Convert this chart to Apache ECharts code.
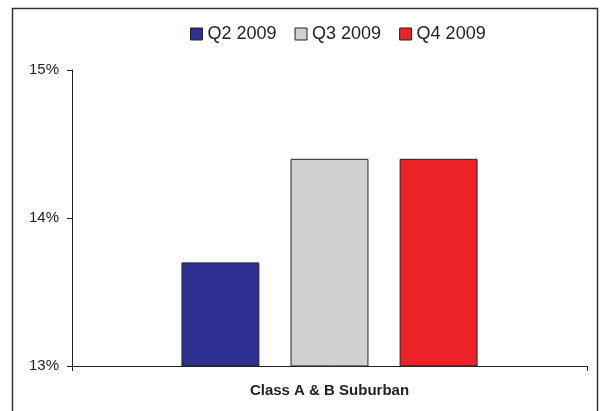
<!DOCTYPE html>
<html>
<head>
<meta charset="utf-8">
<script src="https://cdn.jsdelivr.net/npm/echarts@6/dist/echarts.min.js"></script>
<style>
  html, body { margin: 0; padding: 0; background: #fff; }
  #chart { width: 600px; height: 411px; }
</style>
</head>
<body>
<div id="chart"></div>
<script>
const categories = ['Class A & B Suburban']
const seriesNames = ['Q2 2009', 'Q3 2009', 'Q4 2009']
const seriesValues = [[13.7], [14.4], [14.4]]
const seriesColors = ['#2E3192', '#D0D0D0', '#ED2229']
const yTicks = [13, 14, 15]

const chart = echarts.init(document.getElementById('chart'))

const series = seriesNames.map((name, i) => ({
  name: name,
  type: 'bar',
  data: seriesValues[i],
  barGap: '40%',
  barCategoryGap: '42.5%',
  itemStyle: {
    color: seriesColors[i],
    borderColor: '#222',
    borderWidth: 1
  }
}))

chart.setOption({
  animation: false,
  textStyle: { fontFamily: 'Liberation Sans, Arial, sans-serif' },
  graphic: [
    {
      type: 'rect',
      shape: { x: 12.5, y: 8.5, width: 585, height: 420 },
      style: { fill: 'none', stroke: '#333', lineWidth: 1.5 },
      silent: true
    }
  ],
  legend: {
    top: 20,
    left: 185,
    itemWidth: 12,
    itemHeight: 12,
    itemGap: 18,
    icon: 'rect',
    textStyle: { fontSize: 18, color: '#222' },
    data: seriesNames.map((n, i) => ({
      name: n,
      itemStyle: { color: seriesColors[i], borderColor: '#222', borderWidth: 1 }
    }))
  },
  grid: {
    left: 72,
    right: 13,
    top: 70,
    bottom: 45
  },
  xAxis: {
    type: 'category',
    data: categories,
    axisLine: { lineStyle: { color: '#222', width: 1 } },
    axisTick: { show: true, length: 5, lineStyle: { color: '#222' } },
    axisLabel: {
      fontSize: 15,
      fontWeight: 'bold',
      color: '#222',
      margin: 17
    }
  },
  yAxis: {
    type: 'value',
    min: yTicks[0],
    max: yTicks[yTicks.length - 1],
    interval: 1,
    axisLine: { show: true, lineStyle: { color: '#222', width: 1 } },
    axisTick: { show: true, length: 5, lineStyle: { color: '#222' } },
    splitLine: { show: false },
    axisLabel: {
      fontSize: 15,
      color: '#222',
      margin: 13,
      formatter: v => v + '%'
    }
  },
  series: series
})
</script>
</body>
</html>
